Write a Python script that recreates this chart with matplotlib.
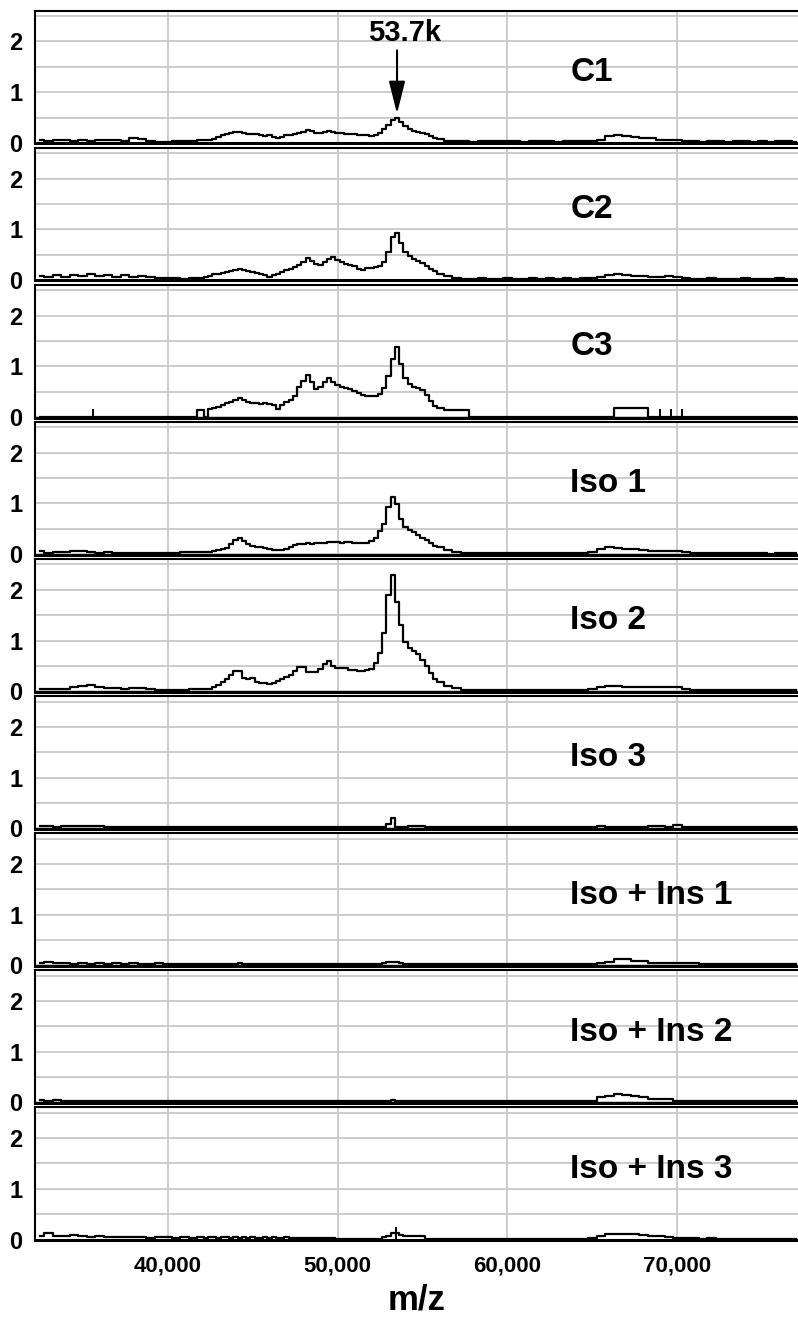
import numpy as np
import matplotlib.pyplot as plt
from matplotlib.ticker import MultipleLocator, FuncFormatter

plt.rcParams['font.family'] = ['Liberation Sans', 'DejaVu Sans']
plt.rcParams['font.weight'] = 'bold'

# m/z bin centres: 500 steps at the edges, 250 steps around the protein peaks
mz = np.concatenate([np.arange(32500, 42000, 500),
                     np.arange(42000, 56001, 250),
                     np.arange(56500, 77001, 500)])

samples = ["C1", "C2", "C3", "Iso 1", "Iso 2", "Iso 3",
           "Iso + Ins 1", "Iso + Ins 2", "Iso + Ins 3"]

c1 = [0.06, 0.04, 0.06, 0.05, 0.03, 0.05, 0.04, 0.06,
      0.05, 0.06, 0.04, 0.09, 0.07, 0.03, 0.02, 0.02,
      0.03, 0.04, 0.04,
      0.05, 0.05, 0.06, 0.08, 0.12, 0.15, 0.17, 0.20,
      0.21, 0.22, 0.20, 0.18, 0.17, 0.17, 0.15, 0.14,
      0.15, 0.12, 0.09, 0.12, 0.15, 0.16, 0.17, 0.19,
      0.22, 0.25, 0.24, 0.20, 0.20, 0.22, 0.23, 0.21,
      0.20, 0.19, 0.18, 0.17, 0.17, 0.16, 0.15, 0.15,
      0.14, 0.15, 0.20, 0.27, 0.35, 0.45, 0.50, 0.42,
      0.33, 0.27, 0.23, 0.21, 0.19, 0.17, 0.14, 0.10,
      0.07,
      0.04, 0.03, 0.03, 0.02, 0.03, 0.04, 0.03, 0.03,
      0.03, 0.02, 0.03, 0.03, 0.03, 0.02, 0.03, 0.03,
      0.03, 0.03, 0.05, 0.13, 0.15, 0.14, 0.11, 0.10,
      0.09, 0.06, 0.06, 0.05, 0.03, 0.03, 0.02, 0.03,
      0.03, 0.02, 0.03, 0.03, 0.02, 0.03, 0.02, 0.03,
      0.03, 0.02]

c2 = [0.07, 0.05, 0.09, 0.06, 0.10, 0.08, 0.11, 0.07,
      0.09, 0.06, 0.10, 0.05, 0.08, 0.06, 0.04, 0.03,
      0.03, 0.02, 0.03,
      0.04, 0.06, 0.08, 0.11, 0.12, 0.14, 0.16, 0.18,
      0.20, 0.22, 0.20, 0.17, 0.15, 0.13, 0.12, 0.10,
      0.06, 0.09, 0.12, 0.16, 0.19, 0.22, 0.25, 0.30,
      0.36, 0.43, 0.37, 0.32, 0.29, 0.35, 0.41, 0.46,
      0.40, 0.35, 0.31, 0.29, 0.27, 0.22, 0.20, 0.23,
      0.24, 0.25, 0.28, 0.36, 0.55, 0.85, 0.92, 0.72,
      0.55, 0.47, 0.42, 0.37, 0.33, 0.27, 0.22, 0.17,
      0.12,
      0.08, 0.04, 0.02, 0.02, 0.03, 0.02, 0.02, 0.03,
      0.02, 0.02, 0.03, 0.02, 0.03, 0.02, 0.03, 0.02,
      0.03, 0.03, 0.05, 0.10, 0.11, 0.09, 0.08, 0.08,
      0.06, 0.06, 0.07, 0.05, 0.03, 0.02, 0.02, 0.03,
      0.02, 0.02, 0.02, 0.03, 0.02, 0.02, 0.02, 0.03,
      0.02, 0.02]

c3 = [0.01, 0.01, 0.01, 0.01, 0.01, 0.01, 0.01, 0.01,
      0.01, 0.01, 0.01, 0.01, 0.01, 0.01, 0.01, 0.01,
      0.01, 0.01, 0.01,
      0.13, 0.01, 0.15, 0.17, 0.20, 0.24, 0.27, 0.30,
      0.34, 0.37, 0.33, 0.29, 0.27, 0.28, 0.26, 0.27,
      0.26, 0.24, 0.15, 0.23, 0.29, 0.34, 0.42, 0.60,
      0.72, 0.82, 0.70, 0.56, 0.60, 0.70, 0.77, 0.70,
      0.63, 0.60, 0.57, 0.55, 0.52, 0.47, 0.44, 0.42,
      0.41, 0.42, 0.45, 0.58, 0.80, 1.15, 1.38, 1.05,
      0.78, 0.66, 0.60, 0.57, 0.53, 0.43, 0.32, 0.22,
      0.17,
      0.14, 0.14, 0.13, 0.01, 0.01, 0.01, 0.01, 0.01,
      0.01, 0.01, 0.01, 0.01, 0.01, 0.01, 0.01, 0.01,
      0.01, 0.01, 0.01, 0.01, 0.17, 0.18, 0.17, 0.18,
      0.01, 0.01, 0.01, 0.01, 0.01, 0.01, 0.01, 0.01,
      0.01, 0.01, 0.01, 0.01, 0.01, 0.01, 0.01, 0.01,
      0.01, 0.01]

iso1 = [0.06, 0.03, 0.05, 0.04, 0.06, 0.07, 0.05, 0.03,
        0.04, 0.03, 0.02, 0.03, 0.02, 0.02, 0.03, 0.03,
        0.02, 0.04, 0.05,
        0.04, 0.05, 0.05, 0.06, 0.08, 0.10, 0.13, 0.20,
        0.27, 0.31, 0.25, 0.19, 0.17, 0.15, 0.14, 0.12,
        0.10, 0.09, 0.09, 0.09, 0.10, 0.15, 0.18, 0.20,
        0.20, 0.21, 0.20, 0.22, 0.21, 0.22, 0.23, 0.23,
        0.23, 0.22, 0.23, 0.23, 0.22, 0.22, 0.22, 0.22,
        0.26, 0.32, 0.45, 0.60, 0.92, 1.12, 0.98, 0.70,
        0.53, 0.48, 0.44, 0.38, 0.32, 0.27, 0.22, 0.17,
        0.14,
        0.08, 0.04, 0.02, 0.02, 0.02, 0.03, 0.02, 0.02,
        0.02, 0.03, 0.02, 0.02, 0.03, 0.02, 0.02, 0.03,
        0.03, 0.05, 0.10, 0.14, 0.12, 0.11, 0.11, 0.09,
        0.07, 0.07, 0.06, 0.06, 0.04, 0.03, 0.02, 0.03,
        0.02, 0.02, 0.02, 0.03, 0.02, 0.02, 0.01, 0.02,
        0.02, 0.02]

iso2 = [0.04, 0.05, 0.04, 0.05, 0.08, 0.10, 0.12, 0.08,
        0.06, 0.07, 0.05, 0.07, 0.06, 0.05, 0.02, 0.02,
        0.02, 0.03, 0.04,
        0.04, 0.05, 0.05, 0.08, 0.12, 0.18, 0.24, 0.32,
        0.40, 0.40, 0.27, 0.25, 0.27, 0.19, 0.17, 0.16,
        0.14, 0.16, 0.20, 0.24, 0.28, 0.32, 0.40, 0.48,
        0.47, 0.38, 0.37, 0.38, 0.44, 0.53, 0.59, 0.50,
        0.45, 0.46, 0.45, 0.42, 0.41, 0.40, 0.40, 0.41,
        0.44, 0.55, 0.75, 1.15, 1.90, 2.30, 1.75, 1.30,
        0.97, 0.85, 0.80, 0.74, 0.62, 0.50, 0.36, 0.24,
        0.19,
        0.11, 0.06, 0.02, 0.02, 0.02, 0.02, 0.02, 0.02,
        0.02, 0.02, 0.02, 0.02, 0.02, 0.02, 0.02, 0.02,
        0.03, 0.05, 0.08, 0.10, 0.10, 0.09, 0.09, 0.09,
        0.09, 0.09, 0.08, 0.08, 0.05, 0.02, 0.02, 0.02,
        0.02, 0.02, 0.02, 0.02, 0.02, 0.02, 0.02, 0.02,
        0.02, 0.02]

iso3 = [0.04, 0.05, 0.03, 0.05, 0.04, 0.05, 0.04, 0.04,
        0.03, 0.02, 0.02, 0.03, 0.02, 0.02, 0.02, 0.02,
        0.02, 0.02, 0.02,
        0.02, 0.02, 0.02, 0.02, 0.02, 0.02, 0.02, 0.02,
        0.02, 0.02, 0.02, 0.02, 0.02, 0.02, 0.02, 0.02,
        0.02, 0.02, 0.02, 0.02, 0.02, 0.02, 0.02, 0.02,
        0.02, 0.02, 0.02, 0.02, 0.02, 0.03, 0.02, 0.02,
        0.02, 0.02, 0.02, 0.02, 0.02, 0.02, 0.02, 0.02,
        0.02, 0.02, 0.02, 0.03, 0.08, 0.20, 0.03, 0.02,
        0.02, 0.04, 0.04, 0.04, 0.04, 0.03, 0.02, 0.02,
        0.02,
        0.02, 0.02, 0.02, 0.02, 0.02, 0.02, 0.02, 0.02,
        0.02, 0.02, 0.02, 0.02, 0.02, 0.02, 0.02, 0.02,
        0.02, 0.02, 0.04, 0.02, 0.02, 0.02, 0.02, 0.02,
        0.04, 0.04, 0.02, 0.06, 0.02, 0.02, 0.02, 0.02,
        0.02, 0.02, 0.02, 0.02, 0.03, 0.02, 0.02, 0.02,
        0.02, 0.02]

ins1 = [0.05, 0.06, 0.04, 0.05, 0.03, 0.04, 0.03, 0.04,
        0.03, 0.04, 0.03, 0.04, 0.03, 0.03, 0.04, 0.03,
        0.03, 0.03, 0.03,
        0.03, 0.03, 0.03, 0.03, 0.03, 0.03, 0.03, 0.03,
        0.03, 0.04, 0.03, 0.03, 0.03, 0.03, 0.03, 0.03,
        0.03, 0.03, 0.03, 0.03, 0.03, 0.03, 0.03, 0.03,
        0.03, 0.03, 0.03, 0.03, 0.03, 0.03, 0.03, 0.03,
        0.03, 0.03, 0.02, 0.02, 0.03, 0.02, 0.02, 0.02,
        0.02, 0.02, 0.03, 0.04, 0.06, 0.07, 0.06, 0.04,
        0.03, 0.02, 0.02, 0.02, 0.02, 0.02, 0.02, 0.02,
        0.02,
        0.02, 0.02, 0.02, 0.02, 0.02, 0.02, 0.02, 0.02,
        0.02, 0.02, 0.02, 0.02, 0.02, 0.02, 0.02, 0.02,
        0.02, 0.03, 0.05, 0.07, 0.13, 0.13, 0.09, 0.09,
        0.04, 0.04, 0.04, 0.04, 0.04, 0.04, 0.02, 0.02,
        0.02, 0.02, 0.02, 0.02, 0.02, 0.02, 0.02, 0.02,
        0.02, 0.02]

ins2 = [0.04, 0.03, 0.04, 0.03, 0.03, 0.02, 0.02, 0.02,
        0.02, 0.02, 0.02, 0.02, 0.02, 0.02, 0.02, 0.02,
        0.02, 0.02, 0.02,
        0.02, 0.02, 0.02, 0.02, 0.02, 0.02, 0.02, 0.02,
        0.02, 0.02, 0.02, 0.02, 0.02, 0.02, 0.02, 0.02,
        0.02, 0.02, 0.02, 0.02, 0.02, 0.02, 0.02, 0.02,
        0.02, 0.02, 0.02, 0.02, 0.02, 0.02, 0.02, 0.02,
        0.02, 0.02, 0.02, 0.02, 0.02, 0.02, 0.02, 0.02,
        0.02, 0.02, 0.02, 0.02, 0.03, 0.04, 0.03, 0.02,
        0.02, 0.02, 0.02, 0.02, 0.02, 0.02, 0.02, 0.02,
        0.02,
        0.02, 0.02, 0.02, 0.02, 0.02, 0.02, 0.02, 0.02,
        0.02, 0.02, 0.02, 0.02, 0.02, 0.02, 0.02, 0.02,
        0.02, 0.03, 0.10, 0.12, 0.17, 0.15, 0.12, 0.10,
        0.07, 0.07, 0.07, 0.03, 0.02, 0.02, 0.02, 0.02,
        0.02, 0.02, 0.02, 0.02, 0.02, 0.02, 0.02, 0.02,
        0.02, 0.02]

ins3 = [0.06, 0.12, 0.07, 0.06, 0.08, 0.06, 0.05, 0.06,
        0.04, 0.05, 0.04, 0.04, 0.04, 0.03, 0.04, 0.04,
        0.03, 0.04, 0.03,
        0.04, 0.03, 0.04, 0.04, 0.03, 0.04, 0.04, 0.03,
        0.04, 0.03, 0.04, 0.03, 0.04, 0.03, 0.03, 0.04,
        0.03, 0.04, 0.03, 0.03, 0.04, 0.03, 0.03, 0.03,
        0.03, 0.03, 0.03, 0.03, 0.03, 0.03, 0.03, 0.03,
        0.02, 0.02, 0.02, 0.02, 0.02, 0.02, 0.02, 0.02,
        0.02, 0.02, 0.02, 0.04, 0.07, 0.12, 0.12, 0.08,
        0.06, 0.06, 0.06, 0.06, 0.06, 0.02, 0.02, 0.02,
        0.02,
        0.02, 0.02, 0.02, 0.02, 0.02, 0.02, 0.02, 0.02,
        0.02, 0.02, 0.02, 0.02, 0.02, 0.02, 0.02, 0.02,
        0.02, 0.03, 0.07, 0.10, 0.11, 0.11, 0.10, 0.08,
        0.07, 0.06, 0.04, 0.03, 0.03, 0.03, 0.02, 0.03,
        0.02, 0.02, 0.02, 0.02, 0.02, 0.02, 0.02, 0.02,
        0.02, 0.02]

spectra = [c1, c2, c3, iso1, iso2, iso3, ins1, ins2, ins3]

# single narrow spikes (m/z, height) that are thinner than one bin
spikes = {2: [(35600, 0.15), (69000, 0.15), (69600, 0.15), (70300, 0.15)],
          8: [(53450, 0.25)]}

fig, axes = plt.subplots(len(samples), 1, figsize=(7.98, 13.21), dpi=100, sharex=True,
                         gridspec_kw=dict(hspace=0.032))
fig.subplots_adjust(left=0.044, right=1.0, top=0.992, bottom=0.0613)

for i, ax in enumerate(axes):
    ax.step(mz, spectra[i], where='mid', color='black', lw=1.6, zorder=3)
    for x0, h in spikes.get(i, []):
        ax.vlines(x0, 0, h, color='black', lw=1.4, zorder=3)
    ax.text(63700, 1.22, samples[i], fontsize=24, fontweight='bold', ha='left', va='baseline')

    ax.set_xlim(32200, 77100)
    ax.set_ylim(-0.01, 2.61)
    ax.xaxis.set_major_locator(MultipleLocator(10000))
    ax.yaxis.set_major_locator(MultipleLocator(1))
    ax.yaxis.set_minor_locator(MultipleLocator(0.5))
    ax.grid(True, which='both', color='#c8c8c8', lw=1.3, zorder=0)
    ax.set_axisbelow(True)
    ax.tick_params(which='both', length=0)
    ax.tick_params(axis='y', labelsize=17, pad=9)
    ax.spines['right'].set_visible(False)
    ax.spines['top'].set_linewidth(1.5)
    ax.spines['left'].set_linewidth(1.5)
    ax.spines['bottom'].set_linewidth(2.2)

axes[0].text(53970, 2.0, "53.7k", fontsize=21, fontweight='bold', ha='center', va='baseline')
axes[0].annotate("", xy=(53500, 0.52), xytext=(53500, 1.88),
                 arrowprops=dict(arrowstyle='-|>,head_length=1.0,head_width=0.25',
                                 color='black', lw=1.5, mutation_scale=20))

axes[-1].xaxis.set_major_formatter(FuncFormatter(lambda v, p: f"{v:,.0f}"))
axes[-1].tick_params(axis='x', labelsize=16, pad=11)
axes[-1].set_xlabel("m/z", fontsize=25, fontweight='bold', labelpad=5)

fig.savefig("out.png", dpi=100)
